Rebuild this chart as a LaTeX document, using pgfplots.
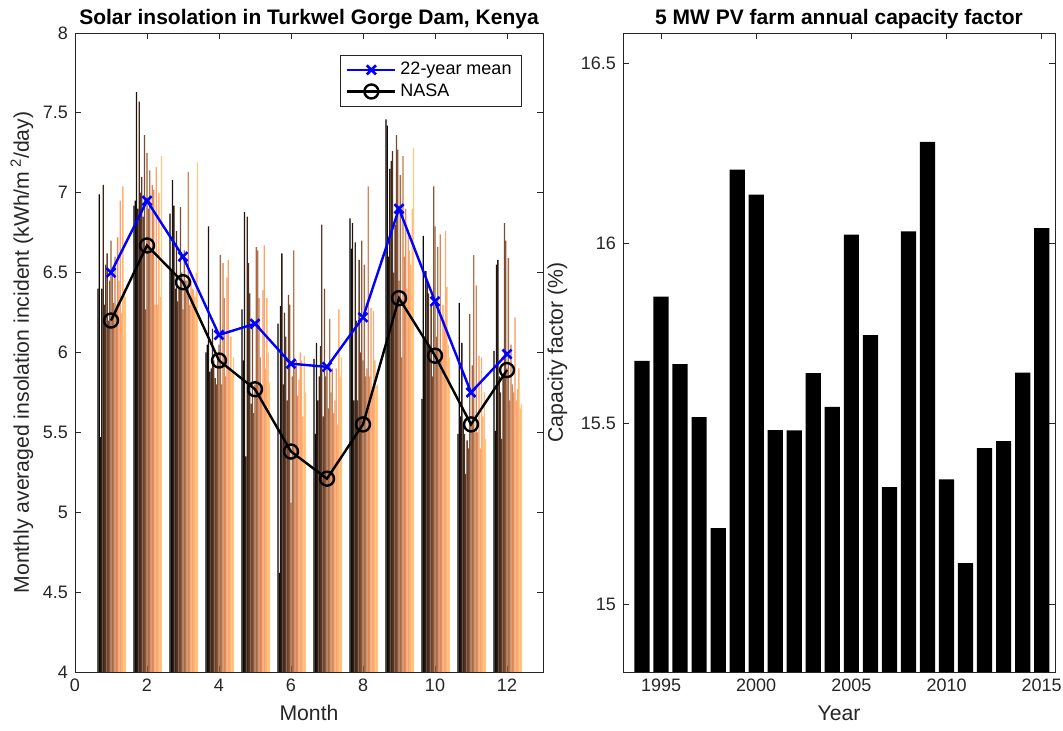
\documentclass[border=0pt]{standalone}
\usepackage{pgfplots}
\pgfplotsset{compat=1.18}
\usepackage{pgfplotstable}
\usepackage{fontspec}
\setmainfont{Liberation Sans}

\definecolor{axgray}{rgb}{0.15,0.15,0.15}

% copper colour map, one shade per year (1994 dark ... 2015 light)
\foreach \i in {0,...,21}{%
  \pgfmathsetmacro{\cx}{\i/21}%
  \pgfmathsetmacro{\cR}{min(1,1.25*\cx)}%
  \pgfmathsetmacro{\cG}{0.7812*\cx}%
  \pgfmathsetmacro{\cB}{0.4975*\cx}%
  \xglobal\definecolor{cop\i}{rgb}{\cR,\cG,\cB}%
}

% monthly insolation, one column per year 1994--2015
\pgfplotstableread{
m  y0   y1   y2   y3   y4   y5   y6   y7   y8   y9   y10  y11  y12  y13  y14  y15  y16  y17  y18  y19  y20  y21
1  6.40 6.99 5.47 6.40 7.05 6.30 6.55 6.62 6.20 6.45 6.70 6.50 6.31 6.60 6.30 6.72 6.45 6.95 6.25 7.04 6.40 6.35
2  6.92 6.95 7.63 6.90 7.57 7.00 7.10 6.85 7.36 6.27 7.25 6.90 7.14 6.65 7.05 7.02 6.30 7.16 6.30 7.00 6.35 7.23
3  6.87 6.52 7.08 6.92 6.40 6.76 6.32 6.40 6.91 6.50 6.27 6.64 6.45 6.45 7.13 6.30 6.45 6.40 6.39 6.35 6.50 7.19
4  6.00 6.05 6.79 5.88 5.90 6.15 5.95 5.84 5.80 5.95 6.05 6.61 5.80 6.56 6.34 5.85 6.47 6.58 5.90 6.10 5.88 5.97
5  6.27 5.95 6.88 5.35 6.85 6.56 6.37 5.68 6.16 5.62 5.80 6.66 6.64 6.34 5.97 5.75 6.39 6.67 5.90 6.34 6.00 5.81
6  6.18 4.62 6.29 6.62 5.80 6.25 6.10 5.70 6.36 6.30 5.06 5.85 6.64 5.90 5.95 5.73 5.83 6.00 5.95 5.60 5.98 5.75
7  5.96 5.49 6.06 5.70 5.85 6.04 6.80 5.60 6.40 5.85 5.90 5.65 6.21 5.75 5.90 5.62 5.70 5.90 5.55 6.27 5.85 5.97
8  6.84 6.65 6.81 5.70 6.69 6.20 5.70 6.58 6.00 6.70 5.95 6.55 5.85 5.90 7.04 5.85 6.28 5.75 6.26 5.95 5.79 5.80
9  7.46 7.42 6.60 7.15 7.20 7.26 6.50 6.80 7.36 7.27 6.45 7.11 5.97 7.23 6.60 6.90 6.40 6.75 6.64 6.55 6.90 7.28
10 5.71 6.73 6.10 6.51 6.45 6.37 6.05 6.30 5.85 7.04 6.79 6.10 6.66 6.00 6.74 5.95 6.30 6.20 6.76 6.41 6.05 5.97
11 5.49 6.31 5.60 6.06 5.55 5.49 5.24 5.45 5.40 6.24 5.56 5.92 6.61 5.50 6.42 5.50 5.98 5.40 5.97 5.60 5.75 5.46
12 6.01 5.51 6.55 6.58 5.85 5.75 5.46 5.85 6.81 6.70 5.90 6.59 5.70 6.05 5.80 5.75 6.22 5.70 5.77 5.90 5.65 5.68
}\insol

% 22-year mean and NASA reference values
\pgfplotstableread{
m  mean nasa
1  6.50 6.20
2  6.95 6.67
3  6.60 6.44
4  6.11 5.95
5  6.18 5.77
6  5.93 5.38
7  5.91 5.21
8  6.22 5.55
9  6.90 6.34
10 6.32 5.98
11 5.75 5.55
12 5.99 5.89
}\lines

% annual capacity factor of the 5 MW plant
\pgfplotstableread{
year cf
1994 15.675
1995 15.853
1996 15.666
1997 15.519
1998 15.211
1999 16.205
2000 16.136
2001 15.483
2002 15.482
2003 15.641
2004 15.547
2005 16.025
2006 15.746
2007 15.325
2008 16.034
2009 16.282
2010 15.346
2011 15.114
2012 15.433
2013 15.452
2014 15.642
2015 16.043
}\capfac

\pgfplotsset{
  matstyle/.style={
    scale only axis,
    axis line style={axgray},
    tick style={axgray, line width=0.4pt},
    major tick length=3pt,
    tick align=inside,
    /pgf/number format/assume math mode=true,
    /pgf/number format/set thousands separator={},
    tick label style={font=\fontsize{9}{10}\selectfont, text=axgray},
    label style={font=\fontsize{10.6}{12}\selectfont, text=axgray},
    title style={font=\bfseries\fontsize{10.5}{12}\selectfont, text=black,
      yshift=-7.5pt},
  },
}

\begin{document}
\begin{tikzpicture}
\path[use as bounding box] (0,0) rectangle (531.5pt,365.5pt);

\begin{axis}[matstyle,
  at={(37.5pt,29.5pt)}, anchor=south west,
  width=234pt, height=319.5pt,
  xmin=0, xmax=13, ymin=4, ymax=8,
  xtick={0,2,...,12}, ytick={4,4.5,...,8},
  title={Solar insolation in Turkwel Gorge Dam, Kenya},
  xlabel={Month},
  ylabel={Monthly averaged insolation incident (kWh/m\,\textsuperscript{2}/day)},
  ylabel style={yshift=-2pt},
  legend style={at={(0.955,0.966)}, anchor=north east, draw=axgray,
    font=\fontsize{9}{10}\selectfont, cells={anchor=west},
    inner xsep=3pt, inner ysep=1.5pt, row sep=-1pt},
  legend image code/.code={\draw[mark repeat=2,mark phase=2]
    plot coordinates {(0cm,0cm) (0.42cm,0cm) (0.84cm,0cm)};},
]
\pgfplotsinvokeforeach{0,...,21}{%
  \addplot[ybar, bar width=0.0364, bar shift={(#1-10.5)*0.0364+0.02},
    fill=cop#1, draw=none, forget plot] table[x=m, y=y#1] {\insol};
}
\addplot[blue, line width=1.2pt, mark=x, mark size=3.2pt,
  mark options={line width=1.3pt}] table[x=m, y=mean] {\lines};
\addplot[black, line width=1.2pt, mark=o, mark size=3.5pt] table[x=m, y=nasa] {\lines};
\legend{22-year mean, NASA}
\end{axis}

\begin{axis}[matstyle,
  at={(311.5pt,29.5pt)}, anchor=south west,
  width=216pt, height=319.5pt,
  xmin=1993, xmax=2015.7, ymin=14.812, ymax=16.584,
  xtick={1995,2000,...,2015}, ytick={15,15.5,16,16.5},
  title={5 MW PV farm annual capacity factor},
  xlabel={Year},
  ylabel={Capacity factor (\%)},
]
\addplot[ybar, bar width=0.8, fill=black, draw=none] table[x=year, y=cf] {\capfac};
\end{axis}
\end{tikzpicture}
\end{document}
